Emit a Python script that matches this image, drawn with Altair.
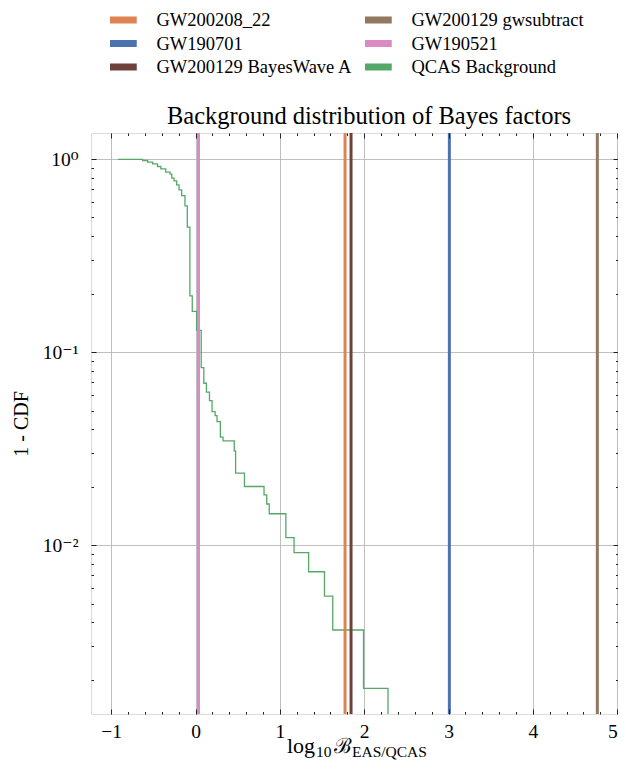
import altair as alt
import pandas as pd

# QCAS background: 1 - CDF step curve (step-after)
bg_x = [-0.921, -0.627, -0.568, -0.509, -0.451, -0.412, -0.353, -0.302, -0.282, -0.255,
        -0.224, -0.196, -0.165, -0.126, -0.098, -0.067, -0.039, 0.012, 0.067, 0.098,
        0.129, 0.165, 0.196, 0.232, 0.255, 0.294, 0.326, 0.459, 0.475, 0.580,
        0.812, 0.844, 0.874, 1.071, 1.168, 1.341, 1.529, 1.627, 1.992, 2.282]
bg_y = [1.0, 0.986, 0.967, 0.948, 0.918, 0.893, 0.858, 0.838, 0.799, 0.774,
        0.738, 0.695, 0.649, 0.574, 0.445, 0.196, 0.163, 0.130, 0.0834, 0.0692,
        0.0622, 0.0563, 0.0493, 0.0470, 0.0438, 0.0364, 0.0348, 0.0309, 0.0237, 0.0202,
        0.0183, 0.0164, 0.0146, 0.01097, 0.00918, 0.00731, 0.00547, 0.00365, 0.00182, 0.0001]
bg_name = "QCAS Background"

# Events (vertical lines)
ev_names = ["GW200208_22", "GW190701", "GW200129 BayesWave A", "GW200129 gwsubtract", "GW190521"]
ev_x = [1.773, 3.01, 1.844, 4.765, 0.035]

# legend order (filled column by column)
legend_order = ["GW200208_22", "GW190701", "GW200129 BayesWave A",
                "GW200129 gwsubtract", "GW190521", "QCAS Background"]
legend_colors = ["#dd8452", "#4c72b0", "#6e413a", "#937860", "#da8bc3", "#55a868"]

x_major = [-1, 0, 1, 2, 3, 4, 5]
x_minor = [round(-1 + 0.2 * k, 1) for k in range(1, 30) if k % 5 != 0]
y_major = [0.01, 0.1, 1.0]
y_minor = [m * 10.0 ** e for e in (-3, -2, -1) for m in range(2, 10) if m * 10.0 ** e > 0.00134]

W, H = 527, 581
FONT = "Liberation Serif"
FONTS = "Liberation Serif, DejaVu Serif, serif"

bg_df = pd.DataFrame({"x": bg_x, "y": bg_y, "name": bg_name})
ev_df = pd.DataFrame({"x": ev_x, "name": ev_names})

xs = alt.Scale(domain=[-1.24, 5.01], nice=False, zero=False)
ys = alt.Scale(type="log", domain=[0.00134, 1.3685], nice=False)
cs = alt.Scale(domain=legend_order, range=legend_colors)

legend = alt.Legend(
    title=None, orient="none", legendX=19, legendY=-124, columns=2,
    symbolType="M-3.5,0L3.5,0", symbolSize=100, symbolStrokeWidth=7, symbolOpacity=1,
    labelFont=FONT, labelFontSize=18.5, labelColor="black", labelOffset=28,
    columnPadding=12, rowPadding=1.5, clipHeight=22, labelLimit=400,
)

line = alt.Chart(bg_df).mark_line(interpolate="step-after", strokeWidth=1.3, clip=True).encode(
    x=alt.X("x:Q", scale=xs, axis=alt.Axis(
        values=x_major, format="d", title=None, grid=True, gridColor="#b8b8b8", gridWidth=0.9,
        ticks=False, tickSize=0, domain=False, labelFont=FONT, labelFontSize=19.5,
        labelColor="black", labelPadding=8, labelFlush=False,
        labelAlign=alt.condition("datum.value >= 5", alt.value("right"), alt.value("center")))),
    y=alt.Y("y:Q", scale=ys, axis=alt.Axis(
        values=y_major, title="1 - CDF", grid=True, gridColor="#b8b8b8", gridWidth=0.9,
        ticks=False, tickSize=0, domain=False, labelFont=FONTS, labelFontSize=19.5,
        labelColor="black", labelPadding=13,
        labelExpr="datum.value >= 1 ? '10⁰' : (datum.value >= 0.1 ? '10⁻¹' : '10⁻²')",
        titleFont=FONT, titleFontSize=20, titleFontWeight="normal", titleColor="black",
        titleAngle=-90, titleX=-70, titleY=H / 2, titleAlign="center", titleBaseline="middle")),
    color=alt.Color("name:N", scale=cs, legend=legend),
)

rules = alt.Chart(ev_df).mark_rule(strokeWidth=3).encode(
    x=alt.X("x:Q", scale=xs, axis=None),
    color=alt.Color("name:N", scale=cs, legend=None),
)


def xticks(vals, orient, size):
    return alt.Chart(pd.DataFrame({"v": vals})).mark_rule(strokeOpacity=0).encode(
        x=alt.X("v:Q", scale=xs, axis=alt.Axis(
            orient=orient, values=vals, labels=False, grid=False, domain=False, title=None,
            ticks=True, tickSize=size, offset=-size, tickColor="#222", tickWidth=1, zindex=2)))


def yticks(vals, orient, size):
    return alt.Chart(pd.DataFrame({"v": vals})).mark_rule(strokeOpacity=0).encode(
        y=alt.Y("v:Q", scale=ys, axis=alt.Axis(
            orient=orient, values=vals, labels=False, grid=False, domain=False, title=None,
            ticks=True, tickSize=size, offset=-size, tickColor="#222", tickWidth=1, zindex=2)))


tick_layers = [
    xticks(x_major, "bottom", 5), xticks(x_minor, "bottom", 2.5),
    xticks(x_major, "top", 5), xticks(x_minor, "top", 2.5),
    yticks(y_major, "left", 5), yticks(y_minor, "left", 2.5),
    yticks(y_major, "right", 5), yticks(y_minor, "right", 2.5),
]

one = pd.DataFrame({"k": [0]})


def text_part(txt, px, py, size, font=FONT, align="left"):
    return alt.Chart(one).mark_text(
        text=txt, align=align, baseline="alphabetic", font=font, fontSize=size,
        color="black", clip=False).encode(x=alt.value(px), y=alt.value(py))


texts = [
    text_part("Background distribution of Bayes factors", 278, -9, 24.5, align="center"),
    text_part("log", 196, 620, 22),
    text_part("10", 225, 624, 15.5),
    text_part("ℬ", 243, 620, 21, "DejaVu Serif"),
    text_part("EAS/QCAS", 261, 624, 15.5),
]

chart = alt.layer(line, rules, *tick_layers, *texts).resolve_axis(
    x="independent", y="independent"
).properties(
    width=W, height=H,
    autosize=alt.AutoSizeParams(type="none"),
    padding={"left": 83, "top": 125, "right": 0, "bottom": 48},
).configure_view(stroke="#666", strokeWidth=1).configure(background="white")

chart.save("out.html", embed_options={"renderer": "svg", "actions": False})
